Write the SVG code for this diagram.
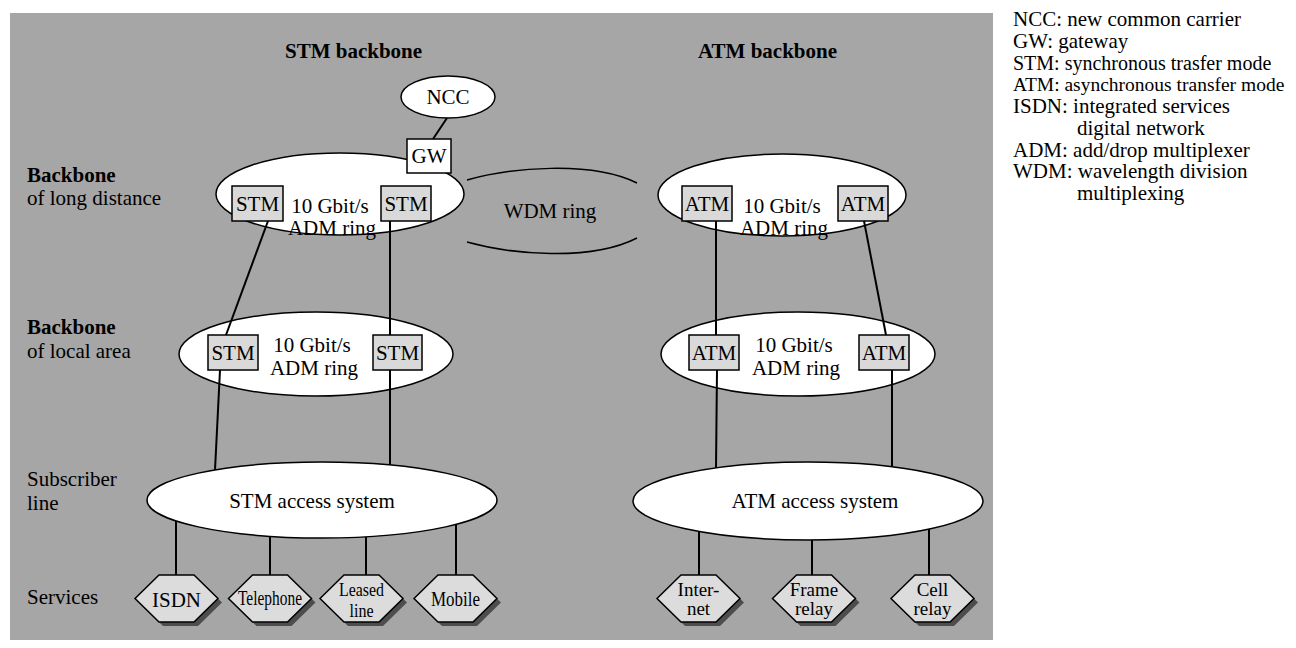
<svg xmlns="http://www.w3.org/2000/svg" xmlns:xlink="http://www.w3.org/1999/xlink" width="1296" height="648" viewBox="0 0 1296 648">
  <style>
    text { font-family: 'Liberation Serif', 'DejaVu Serif', serif; font-size: 21px; fill: #000; }
    .b { font-weight: bold; }
    .mid { text-anchor: middle; }
    .ring { fill: #fff; stroke: #000; stroke-width: 1.5; }
    .box { fill: #d9d9d9; stroke: #000; stroke-width: 1.5; }
    .gw { fill: #fff; stroke: #000; stroke-width: 1.5; }
    .hex { fill: #dcdcdc; stroke: #000; stroke-width: 1.5; }
    .shadow { fill: #4d4d4d; stroke: none; }
    .wire { stroke: #000; stroke-width: 2; fill: none; }
    .wdm { stroke: #000; stroke-width: 1.5; fill: none; }
    .svc { font-size: 19px; }
    .s20 { font-size: 20px; }
    .s195 { font-size: 19.5px; }
  </style>
  <defs>
    <polygon id="hexShape" points="-41.5,0 -17.5,-23.5 17.5,-23.5 41.5,0 17.5,23.5 -17.5,23.5"/>
  </defs>

  <!-- network area -->
  <rect x="10" y="13" width="983" height="627" fill="#a6a6a6"/>

  <!-- column titles and row labels -->
  <g id="labels">
    <text class="b" x="285" y="58">STM backbone</text>
    <text class="b" x="698" y="58">ATM backbone</text>
    <text class="b" x="27" y="182">Backbone</text>
    <text x="27" y="205">of long distance</text>
    <text class="b" x="27" y="334">Backbone</text>
    <text x="27" y="358">of local area</text>
    <text x="27" y="486">Subscriber</text>
    <text x="27" y="510">line</text>
    <text x="27" y="604">Services</text>
  </g>

  <!-- WDM ring between the two long-distance rings -->
  <g id="wdm-ring">
    <path class="wdm" d="M467,180 C510,168 590,160 637,183"/>
    <path class="wdm" d="M467,242 C510,254 590,262 637,238"/>
    <text class="mid" x="550" y="218">WDM ring</text>
  </g>

  <!-- STM long-distance ring -->
  <g id="stm-long">
    <ellipse class="ring" cx="340" cy="194" rx="124" ry="41"/>
    <text class="mid" x="330" y="213">10 Gbit/s</text>
    <text class="mid" x="332" y="235">ADM ring</text>
    <rect class="box" x="232" y="186" width="51" height="35"/>
    <text class="mid" x="257.5" y="211">STM</text>
    <rect class="box" x="381" y="186" width="50" height="35"/>
    <text class="mid" x="406" y="211">STM</text>
  </g>

  <g id="ncc">
    <ellipse class="ring" cx="448" cy="97" rx="47" ry="21"/>
    <text class="mid" x="448" y="104">NCC</text>
  </g>

  <g id="gw">
    <rect class="gw" x="407" y="139" width="44" height="34"/>
    <text class="mid" x="429" y="163">GW</text>
  </g>

  <!-- ATM long-distance ring -->
  <g id="atm-long">
    <ellipse class="ring" cx="782" cy="195" rx="124" ry="41"/>
    <text class="mid" x="782" y="213">10 Gbit/s</text>
    <text class="mid" x="784" y="235">ADM ring</text>
    <rect class="box" x="682" y="186" width="50" height="35"/>
    <text class="mid" x="707" y="211">ATM</text>
    <rect class="box" x="838" y="186" width="50" height="35"/>
    <text class="mid" x="863" y="211">ATM</text>
  </g>

  <!-- STM local-area ring -->
  <g id="stm-local">
    <ellipse class="ring" cx="316" cy="354" rx="137" ry="42"/>
    <text class="mid" x="312" y="352">10 Gbit/s</text>
    <text class="mid" x="314" y="375">ADM ring</text>
    <rect class="box" x="208" y="335" width="50" height="35"/>
    <text class="mid" x="233" y="360">STM</text>
    <rect class="box" x="373" y="335" width="49" height="35"/>
    <text class="mid" x="397.5" y="360">STM</text>
  </g>

  <!-- ATM local-area ring -->
  <g id="atm-local">
    <ellipse class="ring" cx="798" cy="354" rx="137" ry="42"/>
    <text class="mid" x="794" y="352">10 Gbit/s</text>
    <text class="mid" x="796" y="375">ADM ring</text>
    <rect class="box" x="689" y="335" width="50" height="35"/>
    <text class="mid" x="714" y="360">ATM</text>
    <rect class="box" x="859" y="335" width="50" height="35"/>
    <text class="mid" x="884" y="360">ATM</text>
  </g>

  <!-- access systems -->
  <g id="stm-access">
    <ellipse class="ring" cx="322" cy="500" rx="175" ry="38"/>
    <text class="mid" x="312" y="508">STM access system</text>
  </g>
  <g id="atm-access">
    <ellipse class="ring" cx="808" cy="501" rx="175" ry="39"/>
    <text class="mid" x="815" y="508">ATM access system</text>
  </g>

  <!-- services -->
  <g id="svc-isdn">
    <use xlink:href="#hexShape" class="shadow" x="180.5" y="602.5"/>
    <use xlink:href="#hexShape" class="hex" x="176.5" y="598.5"/>
    <text class="mid" x="176.5" y="607">ISDN</text>
  </g>
  <g id="svc-telephone">
    <use xlink:href="#hexShape" class="shadow" x="274" y="602.5"/>
    <use xlink:href="#hexShape" class="hex" x="270" y="598.5"/>
    <text class="mid s20" x="270" y="605" textLength="64" lengthAdjust="spacingAndGlyphs">Telephone</text>
  </g>
  <g id="svc-leased">
    <use xlink:href="#hexShape" class="shadow" x="365.5" y="602.5"/>
    <use xlink:href="#hexShape" class="hex" x="361.5" y="598.5"/>
    <text class="mid svc" x="361.5" y="596" textLength="45" lengthAdjust="spacingAndGlyphs">Leased</text>
    <text class="mid svc" x="361.5" y="617" textLength="24" lengthAdjust="spacingAndGlyphs">line</text>
  </g>
  <g id="svc-mobile">
    <use xlink:href="#hexShape" class="shadow" x="459.5" y="602.5"/>
    <use xlink:href="#hexShape" class="hex" x="455.5" y="598.5"/>
    <text class="mid s20" x="455.5" y="606" textLength="49" lengthAdjust="spacingAndGlyphs">Mobile</text>
  </g>
  <g id="svc-internet">
    <use xlink:href="#hexShape" class="shadow" x="702.5" y="602.5"/>
    <use xlink:href="#hexShape" class="hex" x="698.5" y="598.5"/>
    <text class="mid svc" x="698.5" y="596">Inter-</text>
    <text class="mid svc" x="698.5" y="615">net</text>
  </g>
  <g id="svc-frame">
    <use xlink:href="#hexShape" class="shadow" x="818" y="602.5"/>
    <use xlink:href="#hexShape" class="hex" x="814" y="598.5"/>
    <text class="mid svc" x="814" y="596">Frame</text>
    <text class="mid svc" x="814" y="615">relay</text>
  </g>
  <g id="svc-cell">
    <use xlink:href="#hexShape" class="shadow" x="936.5" y="602.5"/>
    <use xlink:href="#hexShape" class="hex" x="932.5" y="598.5"/>
    <text class="mid svc" x="932.5" y="596">Cell</text>
    <text class="mid svc" x="932.5" y="615">relay</text>
  </g>

  <!-- connectors -->
  <g id="connectors" class="wire">
    <line x1="447" y1="118" x2="433" y2="139"/>
    <line x1="268" y1="221" x2="226" y2="335"/>
    <line x1="390" y1="221" x2="390" y2="335"/>
    <line x1="716" y1="221" x2="716" y2="335"/>
    <line x1="864" y1="221" x2="886" y2="335"/>
    <line x1="220" y1="370" x2="215" y2="470"/>
    <line x1="390" y1="370" x2="390" y2="465"/>
    <line x1="717" y1="370" x2="716" y2="468"/>
    <line x1="892" y1="370" x2="892" y2="467"/>
    <line x1="176" y1="521" x2="176" y2="575"/>
    <line x1="270" y1="536" x2="270" y2="575"/>
    <line x1="366" y1="537" x2="366" y2="575"/>
    <line x1="456" y1="524.5" x2="456" y2="575"/>
    <line x1="699" y1="531.5" x2="699" y2="575"/>
    <line x1="812" y1="540" x2="812" y2="575"/>
    <line x1="929" y1="529" x2="929" y2="575"/>
  </g>

  <!-- abbreviations -->
  <g id="legend">
    <text x="1013" y="26">NCC: new common carrier</text>
    <text x="1013" y="47.75">GW: gateway</text>
    <text class="s20" x="1013" y="69.5">STM: synchronous trasfer mode</text>
    <text class="s195" x="1013" y="91.25">ATM: asynchronous transfer mode</text>
    <text x="1013" y="113">ISDN: integrated services</text>
    <text x="1077" y="134.75">digital network</text>
    <text x="1013" y="156.5">ADM: add/drop multiplexer</text>
    <text x="1013" y="178.25">WDM: wavelength division</text>
    <text x="1077" y="200">multiplexing</text>
  </g>
</svg>
